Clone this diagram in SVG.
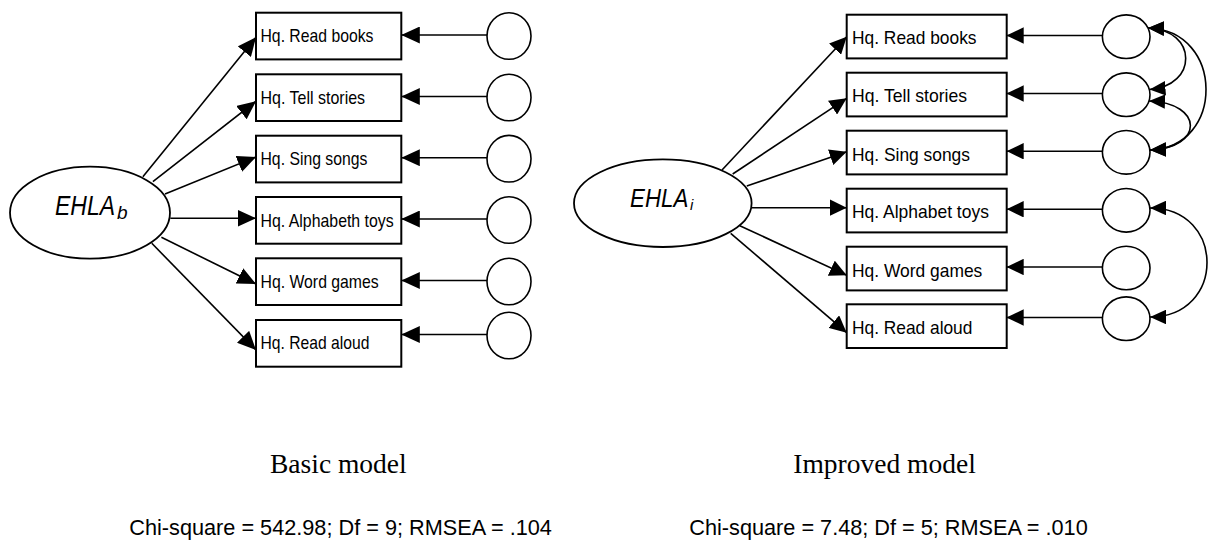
<svg xmlns="http://www.w3.org/2000/svg" width="1208" height="545" viewBox="0 0 1208 545">
  <style>
    .box { fill: #fff; stroke: #000; stroke-width: 2; }
    .lat { fill: #fff; stroke: #000; stroke-width: 1.8; }
    .err { fill: #fff; stroke: #000; stroke-width: 1.6; }
    .ln { fill: none; stroke: #000; stroke-width: 1.6; }
    .lbl { font-family: "Liberation Sans", Arial, sans-serif; font-size: 19px; fill: #000; }
    .fac { font-family: "Liberation Sans", Arial, sans-serif; font-style: italic; fill: #000; }
    .cap { font-family: "Liberation Serif", "Times New Roman", serif; font-size: 27.5px; fill: #000; }
    .fit { font-family: "Liberation Sans", Arial, sans-serif; font-size: 21.7px; fill: #000; }
  </style>
  <defs>
    <marker id="arrL" markerUnits="userSpaceOnUse" viewBox="0 0 18.5 17" markerWidth="18.5" markerHeight="17" refX="18.5" refY="8.5" orient="auto">
      <path d="M0,0 L18.5,8.5 L0,17 z" fill="#000"/>
    </marker>
    <marker id="arrR" markerUnits="userSpaceOnUse" viewBox="0 0 17 16.5" markerWidth="17" markerHeight="16.5" refX="17" refY="8.25" orient="auto">
      <path d="M0,0 L17,8.25 L0,16.5 z" fill="#000"/>
    </marker>
    <marker id="arrC" markerUnits="userSpaceOnUse" viewBox="0 0 16 14.5" markerWidth="16" markerHeight="14.5" refX="16" refY="7.25" orient="auto-start-reverse">
      <path d="M0,0 L16,7.25 L0,14.5 z" fill="#000"/>
    </marker>
  </defs>

  <!-- ===== Basic model ===== -->
  <g id="basic-connectors">
    <line class="ln" x1="142.9" y1="176.7" x2="256" y2="37.3" marker-end="url(#arrL)"/>
    <line class="ln" x1="152.9" y1="181.7" x2="256" y2="101.2" marker-end="url(#arrL)"/>
    <line class="ln" x1="165" y1="194" x2="256" y2="157" marker-end="url(#arrL)"/>
    <line class="ln" x1="170.4" y1="218.3" x2="256" y2="218.3" marker-end="url(#arrL)"/>
    <line class="ln" x1="161.4" y1="237.3" x2="256" y2="284" marker-end="url(#arrL)"/>
    <line class="ln" x1="151.8" y1="243.3" x2="256" y2="350" marker-end="url(#arrL)"/>
    <line class="ln" x1="487" y1="35" x2="401.3" y2="35" marker-end="url(#arrL)"/>
    <line class="ln" x1="487" y1="96.5" x2="401.3" y2="96.5" marker-end="url(#arrL)"/>
    <line class="ln" x1="487" y1="157.7" x2="401.3" y2="157.7" marker-end="url(#arrL)"/>
    <line class="ln" x1="487" y1="219" x2="401.3" y2="219" marker-end="url(#arrL)"/>
    <line class="ln" x1="487" y1="280.5" x2="401.3" y2="280.5" marker-end="url(#arrL)"/>
    <line class="ln" x1="487" y1="334.5" x2="401.3" y2="334.5" marker-end="url(#arrL)"/>
  </g>

  <g id="ehla-b">
    <ellipse class="lat" cx="90" cy="212.7" rx="80" ry="46"/>
    <text class="fac" x="55" y="215" font-size="28"><tspan textLength="60" lengthAdjust="spacingAndGlyphs">EHLA</tspan><tspan x="117" y="218.5" font-size="19">b</tspan></text>
  </g>

  <g id="b-read-books">
    <rect class="box" x="256" y="12.7" width="145.3" height="46.7"/>
    <text class="lbl" x="260.5" y="42" textLength="112.9" lengthAdjust="spacingAndGlyphs">Hq. Read books</text>
  </g>
  <g id="b-tell-stories">
    <rect class="box" x="256" y="74.3" width="145.3" height="46.7"/>
    <text class="lbl" x="260.5" y="103.5" textLength="104.6" lengthAdjust="spacingAndGlyphs">Hq. Tell stories</text>
  </g>
  <g id="b-sing-songs">
    <rect class="box" x="256" y="135.7" width="145.3" height="46.7"/>
    <text class="lbl" x="260.5" y="165" textLength="106.8" lengthAdjust="spacingAndGlyphs">Hq. Sing songs</text>
  </g>
  <g id="b-alphabet-toys">
    <rect class="box" x="256" y="197" width="145.3" height="46.7"/>
    <text class="lbl" x="260.5" y="226.5" textLength="133.2" lengthAdjust="spacingAndGlyphs">Hq. Alphabeth toys</text>
  </g>
  <g id="b-word-games">
    <rect class="box" x="256" y="258.3" width="145.3" height="46.7"/>
    <text class="lbl" x="260.5" y="287.5" textLength="118.2" lengthAdjust="spacingAndGlyphs">Hq. Word games</text>
  </g>
  <g id="b-read-aloud">
    <rect class="box" x="256" y="320" width="145.3" height="46.7"/>
    <text class="lbl" x="260.5" y="348.5" textLength="109" lengthAdjust="spacingAndGlyphs">Hq. Read aloud</text>
  </g>

  <g id="b-errors">
    <ellipse class="err" cx="509" cy="36" rx="22" ry="23.3"/>
    <ellipse class="err" cx="509" cy="97.5" rx="22" ry="23.3"/>
    <ellipse class="err" cx="509" cy="158.7" rx="22" ry="23.3"/>
    <ellipse class="err" cx="509" cy="220" rx="22" ry="23.3"/>
    <ellipse class="err" cx="509" cy="281.5" rx="22" ry="23.3"/>
    <ellipse class="err" cx="509" cy="335.5" rx="22" ry="23.3"/>
  </g>

  <!-- ===== Improved model ===== -->
  <g id="improved-connectors">
    <line class="ln" x1="722" y1="170" x2="846.7" y2="36.7" marker-end="url(#arrR)"/>
    <line class="ln" x1="732.7" y1="174" x2="846.7" y2="98.3" marker-end="url(#arrR)"/>
    <line class="ln" x1="746.8" y1="186" x2="846.7" y2="151.7" marker-end="url(#arrR)"/>
    <line class="ln" x1="751.6" y1="207.7" x2="846.7" y2="207.7" marker-end="url(#arrR)"/>
    <line class="ln" x1="739.8" y1="225.7" x2="846.7" y2="275.3" marker-end="url(#arrR)"/>
    <line class="ln" x1="730.7" y1="233.3" x2="846.7" y2="332.7" marker-end="url(#arrR)"/>
    <line class="ln" x1="1102.4" y1="35.5" x2="1006.7" y2="35.5" marker-end="url(#arrR)"/>
    <line class="ln" x1="1102.4" y1="93.5" x2="1006.7" y2="93.5" marker-end="url(#arrR)"/>
    <line class="ln" x1="1102.4" y1="151.2" x2="1006.7" y2="151.2" marker-end="url(#arrR)"/>
    <line class="ln" x1="1102.4" y1="209.2" x2="1006.7" y2="209.2" marker-end="url(#arrR)"/>
    <line class="ln" x1="1102.4" y1="267" x2="1006.7" y2="267" marker-end="url(#arrR)"/>
    <line class="ln" x1="1102.4" y1="317.5" x2="1006.7" y2="317.5" marker-end="url(#arrR)"/>
    <!-- error covariances -->
    <path class="ln" d="M1148,28 C1198,30 1198,86 1149.5,89.5" marker-start="url(#arrC)" marker-end="url(#arrC)"/>
    <path class="ln" d="M1149,101 C1204,103 1204,148 1150,150" marker-start="url(#arrC)" marker-end="url(#arrC)"/>
    <path class="ln" d="M1148,28 C1225,30 1225,148 1150,150" marker-start="url(#arrC)" marker-end="url(#arrC)"/>
    <path class="ln" d="M1150,208 C1226,208 1226,317 1150,317" marker-start="url(#arrC)" marker-end="url(#arrC)"/>
  </g>

  <g id="ehla-i">
    <ellipse class="lat" cx="662.8" cy="203.2" rx="88.8" ry="43.8"/>
    <text class="fac" x="630" y="207" font-size="26.5"><tspan textLength="58.3" lengthAdjust="spacingAndGlyphs">EHLA</tspan><tspan x="690" y="210" font-size="15">i</tspan></text>
  </g>

  <g id="i-read-books">
    <rect class="box" x="846.7" y="14.7" width="160" height="43.7"/>
    <text class="lbl" x="852" y="44.4" textLength="124.5" lengthAdjust="spacingAndGlyphs">Hq. Read books</text>
  </g>
  <g id="i-tell-stories">
    <rect class="box" x="846.7" y="72.7" width="160" height="43.7"/>
    <text class="lbl" x="852" y="102.4" textLength="115" lengthAdjust="spacingAndGlyphs">Hq. Tell stories</text>
  </g>
  <g id="i-sing-songs">
    <rect class="box" x="846.7" y="130.7" width="160" height="43.7"/>
    <text class="lbl" x="852" y="160.5" textLength="118" lengthAdjust="spacingAndGlyphs">Hq. Sing songs</text>
  </g>
  <g id="i-alphabet-toys">
    <rect class="box" x="846.7" y="188.7" width="160" height="43.7"/>
    <text class="lbl" x="852" y="218.4" textLength="136.9" lengthAdjust="spacingAndGlyphs">Hq. Alphabet toys</text>
  </g>
  <g id="i-word-games">
    <rect class="box" x="846.7" y="246.7" width="160" height="43.7"/>
    <text class="lbl" x="852" y="276.5" textLength="130.3" lengthAdjust="spacingAndGlyphs">Hq. Word games</text>
  </g>
  <g id="i-read-aloud">
    <rect class="box" x="846.7" y="304.3" width="160" height="43.7"/>
    <text class="lbl" x="852" y="334.2" textLength="120.4" lengthAdjust="spacingAndGlyphs">Hq. Read aloud</text>
  </g>

  <g id="i-errors">
    <ellipse class="err" cx="1126.2" cy="36.7" rx="23.8" ry="21.8"/>
    <ellipse class="err" cx="1126.2" cy="94.7" rx="23.8" ry="21.8"/>
    <ellipse class="err" cx="1126.2" cy="152.3" rx="23.8" ry="21.8"/>
    <ellipse class="err" cx="1126.2" cy="210.3" rx="23.8" ry="21.8"/>
    <ellipse class="err" cx="1126.2" cy="268" rx="23.8" ry="21.8"/>
    <ellipse class="err" cx="1126.2" cy="318.7" rx="23.8" ry="21.8"/>
  </g>

  <!-- captions and fit statistics -->
  <g id="captions">
    <text class="cap" x="270" y="473.3">Basic model</text>
    <text class="cap" x="793.3" y="473.3">Improved model</text>
    <text class="fit" x="129.3" y="535">Chi-square = 542.98; Df = 9; RMSEA = .104</text>
    <text class="fit" x="689.3" y="535">Chi-square = 7.48; Df = 5; RMSEA = .010</text>
  </g>
</svg>
